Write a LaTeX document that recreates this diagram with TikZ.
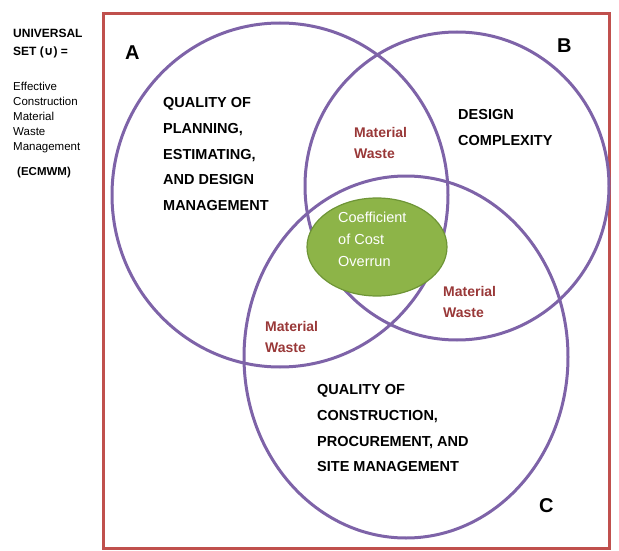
\documentclass[tikz,border=0pt]{standalone}
\usepackage{fontspec}
\setmainfont{Liberation Sans}
\newfontfamily\symfont{DejaVu Sans}
\definecolor{vennpurple}{HTML}{7E63A8}
\definecolor{framered}{HTML}{C0504D}
\definecolor{coregreen}{HTML}{8DB448}
\definecolor{coreedge}{HTML}{6E9536}
\definecolor{wastered}{HTML}{993838}
\begin{document}
\begin{tikzpicture}[x=1pt,y=-1pt,
  setline/.style={draw=vennpurple,line width=3pt},
  setlbl/.style={font=\fontsize{20}{24}\selectfont\bfseries,inner sep=0pt,anchor=base west},
  bigtxt/.style={font=\fontsize{14.5}{25.7}\selectfont\bfseries,align=left,inner sep=0pt,anchor=north west},
  waste/.style={font=\fontsize{14}{20.5}\selectfont\bfseries,text=wastered,align=left,inner sep=0pt,anchor=north west},
  side/.style={font=\fontsize{11.5}{15.5}\selectfont,align=left,inner sep=0pt,anchor=north west}]
\useasboundingbox (0,0) rectangle (619,551);
\draw[draw=framered,line width=3pt] (103,14) rectangle (609,548);
\draw[setline] (280,195) ellipse [x radius=168, y radius=172];
\draw[setline] (457,186) ellipse [x radius=152, y radius=154];
\draw[setline] (406,357) ellipse [x radius=162, y radius=181];
\draw[fill=coregreen,draw=coreedge,line width=1.2pt] (377,247) ellipse [x radius=70, y radius=49];
\node[setlbl] (la) at (125,60) {A};
\node[setlbl] (lb) at (557,53) {B};
\node[setlbl] (lc) at (539,512) {C};
\node[bigtxt] (ta) at (163,97.5) {QUALITY OF\\PLANNING,\\ESTIMATING,\\AND DESIGN\\MANAGEMENT};
\node[bigtxt] (tb) at (458,109.5) {DESIGN\\COMPLEXITY};
\node[bigtxt] (tc) at (317,384.5) {QUALITY OF\\CONSTRUCTION,\\PROCUREMENT, AND\\SITE MANAGEMENT};
\node[waste] (wab) at (354,127.5) {Material\\Waste};
\node[waste] (wbc) at (443,286.5) {Material\\Waste};
\node[waste] (wac) at (265,321.5) {Material\\Waste};
\node[font=\fontsize{14.5}{22}\selectfont,text=white,align=left,inner sep=0pt,anchor=north west] (core) at (338,212) {Coefficient\\of Cost\\Overrun};
\node[side,font=\fontsize{12}{18}\selectfont\bfseries] (uni) at (13,28.5) {UNIVERSAL\\SET ({\symfont ∪}) =};
\node[side,font=\fontsize{11.5}{15.2}\selectfont] (ecm) at (13,81.5) {Effective\\Construction\\Material\\Waste\\Management};
\node[side,font=\fontsize{11.5}{14}\selectfont\bfseries] (abbr) at (17,166.5) {(ECMWM)};
\end{tikzpicture}
\end{document}
